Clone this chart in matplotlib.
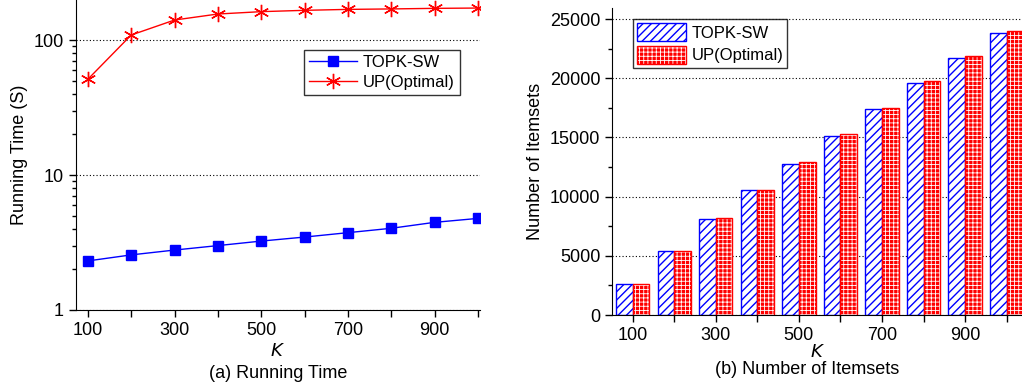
import matplotlib
matplotlib.use("Agg")
import matplotlib.pyplot as plt
import numpy as np
from matplotlib.colors import to_rgba

plt.rcParams['font.family'] = ['Liberation Sans', 'DejaVu Sans']

K = [100, 200, 300, 400, 500, 600, 700, 800, 900, 1000]
time_topk = [2.31, 2.56, 2.78, 3.0, 3.24, 3.47, 3.74, 4.03, 4.46, 4.77]
time_up = [51.2, 108.9, 140.7, 155.9, 162.3, 166.0, 168.7, 170.0, 171.7, 172.6]
items_topk = [2615, 5371, 8099, 10517, 12795, 15157, 17407, 19572, 21709, 23790]
items_up = [2643, 5427, 8183, 10573, 12908, 15270, 17491, 19769, 21906, 24015]
xtick_labels = [100, 300, 500, 700, 900]

W, H = 1022, 390
fig = plt.figure(figsize=(W / 100, H / 100), dpi=100)

FS = 13
LFS = 12

# ---------- left panel ----------
axL = fig.add_axes([75.7 / W, 1 - 310 / H, (480 - 75.7) / W, 310 / H])
axL.plot(K, time_topk, color='blue', marker='s', markersize=6.5, lw=1.0, label='TOPK-SW')
axL.plot(K, time_up, color='red', marker=(6, 2, 0), markersize=11, mew=1.0, lw=1.0, label='UP(Optimal)')
axL.set_yscale('log')
axL.set_ylim(1, 198)
axL.set_xlim(72, 1005)
axL.set_yticks([1, 10, 100])
axL.set_yticklabels(['1', '10', '100'])
axL.set_xticks(xtick_labels)
axL.set_xticks(K, minor=True)
axL.set_xticklabels([str(v) for v in xtick_labels])
axL.tick_params(axis='both', which='major', direction='out', length=5, width=1, labelsize=FS)
axL.tick_params(axis='both', which='minor', direction='out', length=3, width=1)
axL.tick_params(axis='x', which='minor', length=5)
axL.grid(axis='y', which='major', linestyle=(0, (1, 2)), color='black', lw=0.8)
axL.spines['top'].set_visible(False)
axL.spines['right'].set_visible(False)
axL.set_ylabel('Running Time (S)', fontsize=FS, labelpad=4)
axL.set_xlabel('$K$', fontsize=FS, labelpad=3)
leg = axL.legend(loc='upper left', bbox_to_anchor=(228 / 404.3, 1 - 50 / 310), fontsize=LFS,
                 frameon=True, fancybox=False, edgecolor='black', borderpad=0.3,
                 handlelength=2.9, handletextpad=0.35, labelspacing=0.3, borderaxespad=0)
leg.get_frame().set_linewidth(1.0)
fig.text((75.7 + 480) / 2 / W, 1 - 373 / H, '(a) Running Time', ha='center', va='center', fontsize=FS)

# ---------- right panel ----------
axR = fig.add_axes([612 / W, 1 - 315 / H, (W - 612) / W, (315 - 8) / H])
Karr = np.array(K)
bw = 40
plt.rcParams['hatch.linewidth'] = 1.0
b1 = axR.bar(Karr - bw / 2, items_topk, width=bw, facecolor='white', edgecolor='blue',
             hatch='////', lw=1.0, label='TOPK-SW', zorder=2)
plt.rcParams['hatch.linewidth'] = 0.6
b2 = axR.bar(Karr + bw / 2, items_up, width=bw, facecolor='red', edgecolor='red',
             hatch='++++', lw=1.0, label='UP(Optimal)', zorder=2)
for b in b1:
    b._hatch_linewidth = 1.0
for b in b2:
    b._hatch_color = to_rgba('white')
    b._hatch_linewidth = 0.6
axR.set_xlim(50, 1037)
axR.set_ylim(0, 25930)
axR.set_yticks([0, 5000, 10000, 15000, 20000, 25000])
axR.set_yticks(np.arange(0, 25001, 2500), minor=True)
axR.set_xticks(xtick_labels)
axR.set_xticks(K, minor=True)
axR.set_xticklabels([str(v) for v in xtick_labels])
axR.tick_params(axis='both', which='major', direction='out', length=5, width=1, labelsize=FS)
axR.tick_params(axis='both', which='minor', direction='out', length=3, width=1)
axR.tick_params(axis='x', which='minor', length=5)
axR.grid(axis='y', which='major', linestyle=(0, (1, 2)), color='black', lw=0.8, zorder=0)
axR.set_axisbelow(True)
axR.spines['top'].set_visible(False)
axR.spines['right'].set_visible(False)
axR.set_ylabel('Number of Itemsets', fontsize=FS, labelpad=4)
axR.set_xlabel('$K$', fontsize=FS, labelpad=0)
leg2 = axR.legend(loc='upper left', bbox_to_anchor=(21 / 410, 1 - 11 / 307), fontsize=LFS,
                  frameon=True, fancybox=False, edgecolor='black', borderpad=0.25,
                  handlelength=2.9, handleheight=1.3, handletextpad=0.35, labelspacing=0.25,
                  borderaxespad=0)
leg2.get_frame().set_linewidth(1.0)
hs = leg2.legend_handles
hs[0]._hatch_linewidth = 1.0
hs[1]._hatch_color = to_rgba('white')
hs[1]._hatch_linewidth = 0.6
fig.text(807 / W, 1 - 369 / H, '(b) Number of Itemsets', ha='center', va='center', fontsize=FS)

fig.savefig('out.png', dpi=100)
